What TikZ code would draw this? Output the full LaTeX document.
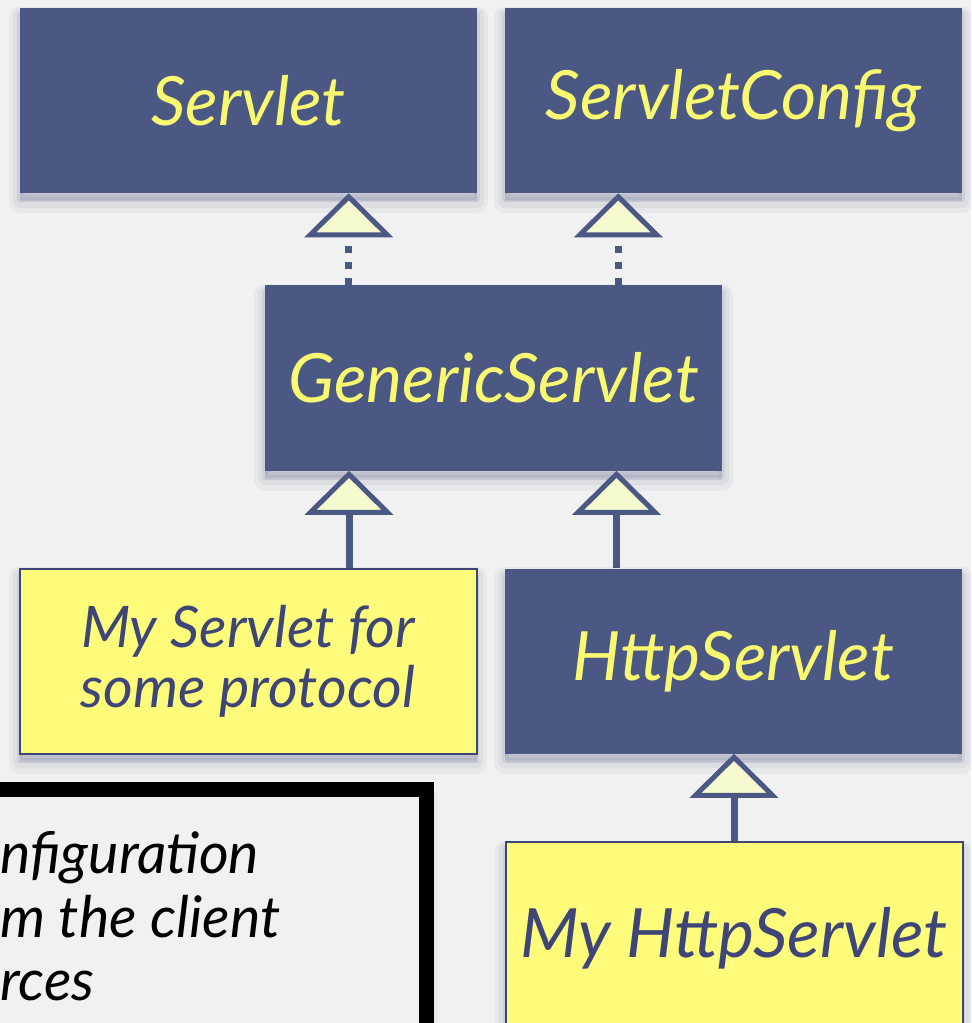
\documentclass[tikz,border=0pt]{standalone}
\usepackage{fontspec}
\setmainfont{Lato}
\usepackage{xcolor}
\usepackage{tikz}
\usetikzlibrary{arrows.meta}

\definecolor{paper}{HTML}{F1F1F1}
\definecolor{navy}{HTML}{4B5884}
\definecolor{chalk}{HTML}{F9F871}
\definecolor{postit}{HTML}{FFFC7B}
\definecolor{ink}{HTML}{3E4577}
\definecolor{tipfill}{HTML}{F6FBCF}
\definecolor{shade}{HTML}{3A4470}

\begin{document}
\begin{tikzpicture}[x=0.75pt,y=-0.75pt,
	softshadow/.style={
		preaction={fill=shade,draw=shade,opacity=0.05,line width=16pt,line join=round,transform canvas={yshift=-7pt}},
		preaction={fill=shade,draw=shade,opacity=0.06,line width=10pt,line join=round,transform canvas={yshift=-6pt}},
		preaction={fill=shade,draw=shade,opacity=0.08,line width=4pt,line join=round,transform canvas={yshift=-5pt}}},
	classbox/.style={softshadow,fill=navy,text=chalk,inner sep=0pt,
		minimum width=342.75pt,minimum height=138.75pt,
		font=\itshape\fontsize{51}{56}\selectfont},
	notebox/.style={classbox,fill=postit,draw=ink,line width=1.5pt,text=ink,align=center,
		font=\itshape\fontsize{43}{45}\selectfont},
	legendtext/.style={anchor=base west,inner sep=0pt,font=\itshape\fontsize{43}{45}\selectfont},
	extends/.style={draw=navy,line width=5.25pt,
		-{Triangle[length=33pt,width=66pt,line width=3.75pt,fill=tipfill]}},
	realizes/.style={extends,dash pattern=on 5.25pt off 6.75pt}]
\clip (0,0) rectangle (971,1023);
\fill[paper] (0,0) rectangle (971,1023);

% interfaces
\node[classbox] (servlet) at (248.5,100.5) {Servlet};
\node[classbox] (config) at (733.5,100.5) {ServletConfig};
% abstract classes
\node[classbox] (generic) at (493.5,378) {GenericServlet};
\node[classbox] (http) at (733.5,661) {HttpServlet};
% own servlets
\node[notebox] (myservlet) at (248,661) {My Servlet for\\some protocol};
\node[notebox,minimum height=144pt,font=\itshape\fontsize{51}{56}\selectfont] (myhttp) at (734,938) {My HttpServlet};

% legend, cut at the left
\draw[softshadow,line width=11.25pt,fill=paper] (-40,789.5) rectangle (426.5,1080);
\node[legendtext] (lineA) at (0,873) {nfiguration};
\node[legendtext] (lineB) at (0,937) {m the client};
\node[legendtext] (lineC) at (0,1000) {rces};

\coordinate (g1) at ([xshift=63pt]generic.north west);
\coordinate (g2) at ([xshift=-78pt]generic.north east);
\coordinate (m1) at ([xshift=75.75pt]myservlet.north);
\coordinate (h1) at ([xshift=-87.75pt]http.north);
\coordinate (h2) at (myhttp.north);

\draw[realizes] (g1) -- (g1 |- servlet.south);
\draw[realizes] (g2) -- (g2 |- config.south);
\draw[extends] (m1) -- (m1 |- generic.south);
\draw[extends] (h1) -- (h1 |- generic.south);
\draw[extends] (h2) -- (h2 |- http.south);

\end{tikzpicture}
\end{document}
